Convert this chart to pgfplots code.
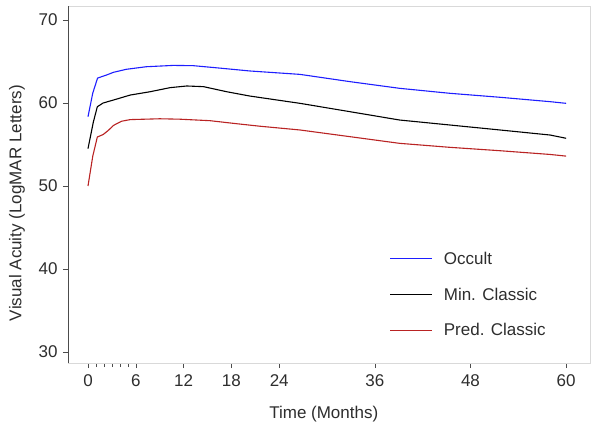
\documentclass[border=0pt]{standalone}
\usepackage{pgfplots}
\pgfplotsset{compat=1.18}
\usepackage{fontspec}
\setmainfont{Liberation Sans}
\definecolor{occ}{RGB}{30,30,255}
\definecolor{pred}{RGB}{185,35,35}
\definecolor{txt}{RGB}{45,45,45}
\newcommand{\F}{\fontsize{17bp}{20bp}\selectfont}
\begin{document}
\begin{tikzpicture}
\path[use as bounding box] (-68bp,-61bp) rectangle (523bp,363bp);
\begin{axis}[
  scale only axis, width=522bp, height=357bp,
  xmin=-2.51, xmax=63.0, ymin=28.67, ymax=71.69,
  axis line style={draw=black!15, line width=0.6bp},
  xtick={0,6,12,18,24,36,48,60},
  minor xtick={1,2,3,4,5},
  ytick={30,40,50,60,70},
  xtick pos=bottom, ytick pos=left,
  tick align=outside,
  major tick length=5bp, minor tick length=4bp,
  every tick/.style={draw=black!70, line width=0.6bp},
  /pgf/number format/assume math mode=true,
  tick label style={font=\F, text=txt},
  xticklabel style={yshift=-3bp},
  yticklabel style={xshift=-2bp},
  xlabel={Time (Months)}, ylabel={Visual Acuity (LogMAR Letters)},
  label style={font=\F, text=txt},
  xlabel style={at={(axis description cs:0.49,-0.143)}, anchor=center},
  ylabel style={at={(axis description cs:-0.0977,0.448)}, anchor=center},
  legend style={at={(axis description cs:0.616,0.317)}, anchor=north west, draw=none, fill=none, font=\F, text=txt, row sep=18bp, inner sep=0pt,
    /tikz/every odd column/.append style={column sep=9bp}},
  legend cell align=left,
  legend image code/.code={\draw[#1] (0bp,0bp) -- (42bp,0bp);},
  every axis plot/.append style={line width=1.1bp},
]
\addplot[occ] coordinates {
(0,58.35) (0.6,61.2) (1.2,63.0) (2.4,63.4) (3.2,63.7) (4.8,64.06) (7.3,64.37) (10.7,64.53) (13.2,64.5) (16.6,64.2) (20.3,63.86) (26.6,63.45) (32.9,62.57) (39.1,61.77) (45.4,61.17) (51.7,60.69) (58,60.16) (60,59.96)};
\addlegendentry{Occult}
\addplot[black] coordinates {
(0,54.5) (0.67,57.7) (1.17,59.55) (1.9,60.0) (3.2,60.36) (5.3,60.96) (7.8,61.36) (10.3,61.85) (12.4,62.05) (14.5,61.97) (17.4,61.36) (20.3,60.84) (26.6,59.96) (32.9,58.95) (39.1,57.95) (45.4,57.35) (51.7,56.75) (58,56.14) (60,55.75)};
\addlegendentry{Min. Classic}
\addplot[pred] coordinates {
(0,50.0) (0.6,53.6) (1.17,55.9) (1.9,56.2) (2.55,56.7) (3.2,57.3) (4.2,57.8) (5.3,58.0) (9,58.1) (11.5,58.05) (15.3,57.87) (18.7,57.5) (21.6,57.2) (26.6,56.75) (32.9,55.94) (39.1,55.14) (45.4,54.66) (51.7,54.25) (58,53.8) (60,53.6)};
\addlegendentry{Pred. Classic}
\draw[black!70, line width=0.8bp] (rel axis cs:0,0) -- (rel axis cs:0,1);
\end{axis}
\end{tikzpicture}
\end{document}
